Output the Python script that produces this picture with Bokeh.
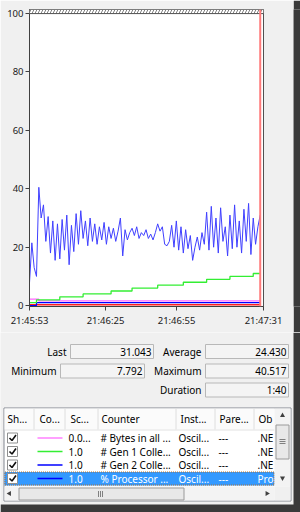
import numpy as np
from bokeh.plotting import figure
from bokeh.layouts import column, row
from bokeh.models import Range1d, Span, BoxAnnotation
from bokeh.core.properties import value
from bokeh.embed import file_html
from bokeh.resources import INLINE

# ---------------- data ----------------
# % Processor Time, one sample per second (100 samples, duration 1:40)
cpu = [
    7.792, 21.5, 13.0, 10.0, 40.517, 30.0, 34.5, 22.0, 30.5, 18.0,
    29.0, 15.5, 28.0, 16.0, 29.5, 19.0, 31.0, 14.0, 27.5, 18.5,
    31.5, 21.0, 32.5, 23.0, 29.0, 20.5, 30.0, 22.0, 28.0, 21.0,
    27.0, 22.5, 28.5, 21.0, 27.0, 23.0, 26.5, 22.0, 25.5, 30.0,
    17.0, 26.0, 22.5, 25.0, 26.5, 24.0, 27.0, 23.0, 25.0, 24.0,
    26.0, 23.0, 24.5, 22.5, 25.0, 28.0, 25.5, 27.0, 21.0, 20.5,
    22.0, 27.5, 20.0, 29.0, 19.0, 27.0, 18.0, 26.0, 19.5, 24.0,
    15.5, 20.0, 23.5, 19.0, 25.0, 21.0, 32.0, 19.0, 34.0, 20.0,
    30.0, 18.0, 33.5, 22.0, 27.0, 17.0, 31.0, 19.5, 34.5, 20.0,
    29.0, 18.0, 33.0, 22.0, 35.0, 17.5, 30.0, 21.0, 27.0, 31.043,
]
sample_idx = list(range(len(cpu)))

# # Gen 1 Collections (step changes: sample index -> value)
gen1_t = [0, 3, 13, 23, 35, 44, 55, 66, 76, 86, 96, 99]
gen1_v = [1, 2, 3, 4, 5, 6, 7, 8, 9, 10, 11, 11]
# # Bytes in all Heaps (scaled)
bytes_t = [0, 3, 4, 99]
bytes_v = [2.2, 2.2, 1.6, 1.6]
# # Gen 2 Collections
gen2_t = [0, 3, 99]
gen2_v = [0, 1, 1]
# another counter lying near zero (red)
other_t = [0, 99]
other_v = [0.3, 0.3]

y_ticks = [0, 20, 40, 60, 80, 100]
x_tick_pos = [0.0, 32.6, 63.1, 100.4]
x_tick_labels = ["21:45:53", "21:46:25", "21:46:55", "21:47:31"]

stat_labels = ["Last", "Average", "Minimum", "Maximum", "Duration"]
stat_values = ["31.043", "24.430", "7.792", "40.517", "1:40"]

col_headers = ["Sh...", "Co...", "Sc...", "Counter", "Inst...", "Pare...", "Ob"]
row_colors = ["#ff80ff", "#33ee33", "#0000ff", "#0000ff"]
row_scales = ["0.0...", "1.0", "1.0", "1.0"]
row_counters = ["# Bytes in all ...", "# Gen 1 Colle...", "# Gen 2 Colle...", "% Processor ..."]
row_instances = ["Oscil...", "Oscil...", "Oscil...", "Oscil..."]
row_parents = ["---", "---", "---", "---"]
row_objects = [".NE", ".NE", ".NE", "Pro"]

FONT = value("Noto Sans")
EDGE = "#3a3a3a"

# ---------------- chart ----------------
p = figure(width=293, height=332, x_range=Range1d(0, 100.4), y_range=Range1d(-0.3, 101.4),
           output_backend="svg", toolbar_location=None,
           min_border_left=29, min_border_right=30, min_border_top=9, min_border_bottom=26)
p.background_fill_color = "white"
p.border_fill_color = "#f0f0f0"
p.outline_line_color = "#505050"
p.grid.visible = False

p.add_layout(BoxAnnotation(bottom=100, fill_color="white", fill_alpha=1,
                           hatch_pattern="/", hatch_color="#808080", hatch_scale=6,
                           hatch_weight=1, line_color=None))
p.add_layout(Span(location=100, dimension="width", line_color="#505050", line_width=1))

p.line(other_t, other_v, line_color="#ff2020", line_width=1.5)
p.step(gen2_t, gen2_v, mode="after", line_color="#0000ff", line_width=1.2)
p.step(bytes_t, bytes_v, mode="after", line_color="#ff66ff", line_width=1.2)
p.step(gen1_t, gen1_v, mode="after", line_color="#33ee33", line_width=1.3)
p.line(sample_idx, cpu, line_color="#4040ff", line_width=1)

p.add_layout(Span(location=sample_idx[-1], dimension="height", line_color="#ff7b7b", line_width=2))

p.yaxis.ticker = y_ticks
p.xaxis.ticker = x_tick_pos
p.xaxis.major_label_overrides = dict(zip(x_tick_pos, x_tick_labels))
for ax in (p.xaxis[0], p.yaxis[0]):
    ax.axis_line_color = "#404040"
    ax.major_tick_line_color = "#404040"
    ax.major_tick_in = 0
    ax.major_tick_out = 4
    ax.minor_tick_line_color = None
    ax.major_label_text_font = "Noto Sans"
    ax.major_label_text_font_size = "9.5px"
    ax.major_label_text_color = "#1a1a1a"
p.yaxis.major_label_standoff = 2
p.xaxis.major_label_standoff = 3

# dark window edge on the right of the chart
strip = figure(width=7, height=332, x_range=Range1d(0, 7), y_range=Range1d(0, 1),
               output_backend="svg", toolbar_location=None, min_border=0,
               x_axis_location=None, y_axis_location=None)
strip.outline_line_color = None
strip.grid.visible = False
strip.background_fill_color = EDGE
strip.border_fill_color = EDGE

# ---------------- stats + counter table (pixel coordinates) ----------------
q = figure(width=300, height=180, x_range=Range1d(0, 300), y_range=Range1d(512, 332),
           output_backend="svg", toolbar_location=None, min_border=0,
           x_axis_location=None, y_axis_location=None)
q.outline_line_color = None
q.grid.visible = False
q.background_fill_color = "#f0f0f0"
q.border_fill_color = "#f0f0f0"

def txt(xs, ys, texts, align="left", color="#000000", size="10px"):
    q.text(x=xs, y=ys, text=texts, text_font=FONT, text_font_size=size,
           text_align=align, text_baseline="middle", text_color=color)

lab_right = [66, 201, 56, 201, 201]
row_y = [351, 351, 370.5, 370.5, 389.5]
box_l = [70, 205, 60, 205, 205]
box_r = [153, 288, 144, 288, 288]
q.quad(left=box_l, right=box_r, top=[y - 7 for y in row_y], bottom=[y + 7 for y in row_y],
       fill_color="#f4f4f4", line_color="#b8b8b8", line_width=1)
txt(lab_right, row_y, stat_labels, align="right")
txt([r - 2 for r in box_r], row_y, stat_values, align="right")

# table frame and header
q.quad(left=[3.5], right=[290.5], top=[407.5], bottom=[500.5], fill_color="white",
       line_color="#828790", line_width=1)
q.quad(left=[4], right=[274], top=[408], bottom=[429], fill_color="#fbfbfb", line_color=None)
q.segment(x0=[4], y0=[429.5], x1=[274], y1=[429.5], line_color="#e2e2e2", line_width=1)
sep_x = [33.5, 64.5, 97.5, 175.5, 214.5, 253.5]
q.segment(x0=sep_x, y0=[408] * 6, x1=sep_x, y1=[429] * 6, line_color="#dedede", line_width=1)
txt([7, 39, 70, 101, 180, 219, 258], [418] * 7, col_headers)

# rows
ry = [437.5, 451, 464.5, 478]
q.quad(left=[4], right=[274], top=[471.5], bottom=[485], fill_color="#3399ff", line_color=None)
q.quad(left=[4.5], right=[273.5], top=[471.5], bottom=[484.5], fill_color=None,
       line_color="#b07030", line_dash="1 1", line_width=1)
q.quad(left=[7] * 4, right=[17] * 4, top=[y - 5 for y in ry], bottom=[y + 5 for y in ry],
       fill_color="white", line_color="#8e8f8f", line_width=1)
q.multi_line(xs=[[9, 11.5, 15.5] for _ in ry], ys=[[y, y + 2.5, y - 3] for y in ry],
             line_color="#111111", line_width=1.6)
q.segment(x0=[37] * 4, y0=ry, x1=[62] * 4, y1=ry, line_color=row_colors, line_width=1.5)
tcol = ["#000000", "#000000", "#000000", "#ffffff"]
txt([68] * 4, ry, row_scales, color=tcol)
txt([100] * 4, ry, row_counters, color=tcol)
txt([178] * 4, ry, row_instances, color=tcol)
txt([218] * 4, ry, row_parents, color=tcol)
txt([257] * 4, ry, row_objects, color=tcol)

# vertical scrollbar
q.quad(left=[274], right=[290], top=[408], bottom=[486], fill_color="#f3f3f3", line_color=None)
q.quad(left=[275.5], right=[288.5], top=[424.5], bottom=[458.5], fill_color="#e8e8e8",
       line_color="#9a9a9a", line_width=1)
q.segment(x0=[279] * 3, y0=[439, 441, 443], x1=[285] * 3, y1=[439, 441, 443],
          line_color="#808080", line_width=1)
q.scatter(x=[282, 282], y=[415, 477.5], marker="triangle", size=5, angle=[0, np.pi],
          fill_color="#404040", line_color=None)
# horizontal scrollbar
q.quad(left=[4], right=[274], top=[486], bottom=[500], fill_color="#f3f3f3", line_color=None)
q.quad(left=[18.5], right=[183.5], top=[487.5], bottom=[499.5], fill_color="#e8e8e8",
       line_color="#9a9a9a", line_width=1)
q.segment(x0=[98, 100, 102], y0=[490.5] * 3, x1=[98, 100, 102], y1=[496.5] * 3,
          line_color="#808080", line_width=1)
q.scatter(x=[9, 266.5], y=[493, 493], marker="triangle", size=5, angle=[np.pi / 2, -np.pi / 2],
          fill_color="#404040", line_color=None)
q.quad(left=[274], right=[290], top=[486], bottom=[500], fill_color="#f0f0f0", line_color=None)

# dark window edges
q.quad(left=[293], right=[300], top=[332], bottom=[512], fill_color=EDGE, line_color=None)
q.quad(left=[0], right=[300], top=[504], bottom=[512], fill_color=EDGE, line_color=None)

layout = column(row(p, strip), q)
open("out.html", "w").write(file_html(layout, INLINE))
